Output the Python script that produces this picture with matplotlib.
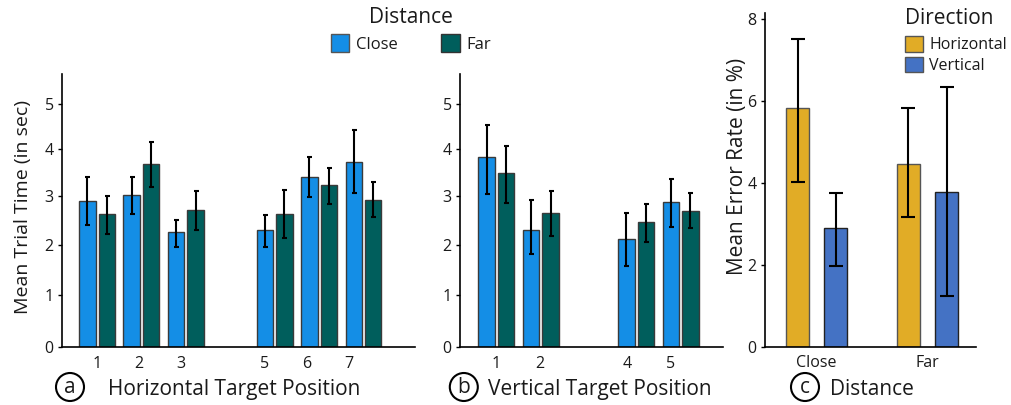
import numpy as np
import matplotlib
matplotlib.use("Agg")
import matplotlib.pyplot as plt
from matplotlib.patches import Ellipse, Patch

plt.rcParams['font.family'] = ['Open Sans', 'DejaVu Sans']

# ---------------- data ----------------
h_pos = [1, 2, 3, 5, 6, 7]
h_labels = ['1', '2', '3', '5', '6', '7']
h_close = [2.90, 3.02, 2.25, 2.30, 3.40, 3.72]
h_close_lo = [2.40, 2.62, 1.95, 1.95, 2.97, 3.07]
h_close_hi = [3.40, 3.41, 2.50, 2.61, 3.83, 4.41]
h_far = [2.62, 3.68, 2.70, 2.62, 3.23, 2.92]
h_far_lo = [2.21, 3.19, 2.29, 2.14, 2.83, 2.57]
h_far_hi = [3.00, 4.16, 3.11, 3.12, 3.60, 3.30]

v_pos = [1, 2, 4, 5]
v_labels = ['1', '2', '4', '5']
v_close = [3.83, 2.30, 2.11, 2.87]
v_close_lo = [3.05, 1.81, 1.56, 2.35]
v_close_hi = [4.54, 2.92, 2.64, 3.36]
v_far = [3.48, 2.64, 2.46, 2.69]
v_far_lo = [2.85, 2.18, 2.05, 2.33]
v_far_hi = [4.07, 3.11, 2.83, 3.07]

dist_labels = ['Close', 'Far']
err_horiz = [5.83, 4.47]
err_horiz_lo = [4.03, 3.17]
err_horiz_hi = [7.52, 5.83]
err_vert = [2.89, 3.78]
err_vert_lo = [1.96, 1.24]
err_vert_hi = [3.74, 6.33]

# ---------------- style ----------------
C_CLOSE = '#148EE6'
C_FAR = '#005E5C'
C_HOR = '#E1AC26'
C_VER = '#4472C4'
TXT = '#1a1a1a'
EDGE = '#3a3a3a'

W, H = 1012, 405
fig = plt.figure(figsize=(W / 100, H / 100), dpi=100)


def ax_px(l, t, r, b):
    return fig.add_axes([l / W, 1 - b / H, (r - l) / W, (b - t) / H])


def fwd(y):
    return np.log(np.asarray(y, dtype=float) + 25.0)


def inv(v):
    return np.exp(np.asarray(v, dtype=float)) - 25.0


def style_axis(ax):
    for s in ['top', 'right']:
        ax.spines[s].set_visible(False)
    for s in ['left', 'bottom']:
        ax.spines[s].set_linewidth(1.2)
        ax.spines[s].set_color('black')
    ax.tick_params(axis='y', length=3, width=1, pad=3, labelsize=11.5, labelcolor=TXT)
    ax.tick_params(axis='x', length=0, pad=6, labelsize=11.5, labelcolor=TXT)


def grouped(ax, x, close, clo, chi, far, flo, fhi):
    x = np.asarray(x, dtype=float)
    bw, off = 0.37, 0.22
    ek = dict(ecolor='black', elinewidth=1.5, capsize=1.8, capthick=1.5)
    c = np.asarray(close); f = np.asarray(far)
    ax.bar(x - off, c, bw, color=C_CLOSE, edgecolor=EDGE, linewidth=1.0,
           yerr=[c - np.asarray(clo), np.asarray(chi) - c], error_kw=ek, zorder=2)
    ax.bar(x + off, f, bw, color=C_FAR, edgecolor=EDGE, linewidth=1.0,
           yerr=[f - np.asarray(flo), np.asarray(fhi) - f], error_kw=ek, zorder=2)


# ---------- panel a ----------
ax_a = ax_px(62, 74, 415, 347.3)
ax_a.set_yscale('function', functions=(fwd, inv))
xa = np.asarray(h_pos, dtype=float)
grouped(ax_a, xa, h_close, h_close_lo, h_close_hi, h_far, h_far_lo, h_far_hi)
ax_a.set_xlim(0.21, 8.16)
ax_a.set_ylim(0, 5.68)
ax_a.set_yticks([0, 1, 2, 3, 4, 5])
ax_a.set_yticklabels(['0', '1', '2', '3', '4', '5'])
ax_a.yaxis.set_minor_locator(matplotlib.ticker.NullLocator())
ax_a.set_xticks(1 + (xa - 1) * 0.945, h_labels)
style_axis(ax_a)
ax_a.set_ylabel('Mean Trial Time (in sec)', fontsize=14, color=TXT)
ax_a.yaxis.set_label_coords(-0.085, 0.513)

# ---------- panel b ----------
ax_b = ax_px(460, 74, 722.7, 347.3)
ax_b.set_yscale('function', functions=(fwd, inv))
vp = np.asarray(v_pos, dtype=float)
xb = vp + np.where(vp > 3, 0.15, 0.0)
grouped(ax_b, xb, v_close, v_close_lo, v_close_hi, v_far, v_far_lo, v_far_hi)
ax_b.set_xlim(0.18, 6.10)
ax_b.set_ylim(0, 5.68)
ax_b.set_yticks([0, 1, 2, 3, 4, 5])
ax_b.set_yticklabels(['0', '1', '2', '3', '4', '5'])
ax_b.yaxis.set_minor_locator(matplotlib.ticker.NullLocator())
ax_b.set_xticks(1 + (vp - 1) * 0.98, v_labels)
style_axis(ax_b)

# ---------- panel c ----------
ax_c = ax_px(765, 12.7, 976, 346.7)
xc = np.arange(len(dist_labels), dtype=float)
bwc, offc = 0.208, 0.173
ekc = dict(ecolor='black', elinewidth=1.5, capsize=4.7, capthick=1.5)
eh = np.asarray(err_horiz); ev = np.asarray(err_vert)
ax_c.bar(xc - offc, eh, bwc, color=C_HOR, edgecolor='#555555', linewidth=1.0,
         yerr=[eh - np.asarray(err_horiz_lo), np.asarray(err_horiz_hi) - eh], error_kw=ekc, zorder=2)
ax_c.bar(xc + offc, ev, bwc, color=C_VER, edgecolor='#222222', linewidth=1.0,
         yerr=[ev - np.asarray(err_vert_lo), np.asarray(err_vert_hi) - ev], error_kw=ekc, zorder=2)
ax_c.set_xlim(-0.467, 1.438)
ax_c.set_ylim(0, 8.15)
ax_c.set_yticks([0, 2, 4, 6, 8])
ax_c.set_xticks(xc, dist_labels)
style_axis(ax_c)
ax_c.set_ylabel('Mean Error Rate (in %)', fontsize=15, color=TXT)
ax_c.yaxis.set_label_coords(-0.082, 0.541)

# ---------- x labels with circled letters ----------
def circ_label(cx, letter, tx, text):
    fig.patches.append(Ellipse((cx / W, 1 - 387 / H), 28 / W, 28 / H, transform=fig.transFigure,
                               fill=False, edgecolor='black', linewidth=1.5))
    fig.text(cx / W, 1 - 393 / H, letter, ha='center', va='baseline', fontsize=15, color=TXT)
    fig.text(tx / W, 1 - 395 / H, text, ha='left', va='baseline', fontsize=15, color=TXT)

circ_label(70, 'a', 108, 'Horizontal Target Position')
circ_label(463.8, 'b', 488, 'Vertical Target Position')
circ_label(805, 'c', 830, 'Distance')

# ---------- legends ----------
h1 = [Patch(facecolor=C_CLOSE, edgecolor='#555555'), Patch(facecolor=C_FAR, edgecolor='#333333')]
leg1 = fig.legend(h1, ['Close', 'Far'], title='Distance', ncol=2, frameon=False,
                  loc='upper center', bbox_to_anchor=(411 / W, 1 + 5 / H),
                  fontsize=12, title_fontsize=15, handlelength=1.1, handleheight=1.25,
                  handletextpad=0.4, columnspacing=2.6, borderpad=0.2, labelspacing=0.4)
for t in leg1.get_texts():
    t.set_color(TXT)
leg1.get_title().set_color(TXT)

h2 = [Patch(facecolor=C_HOR, edgecolor='#555555'), Patch(facecolor=C_VER, edgecolor='#555555')]
leg2 = fig.legend(h2, ['Horizontal', 'Vertical'], title='Direction', ncol=1, frameon=False,
                  loc='upper left', bbox_to_anchor=(894 / W, 1 + 3 / H), alignment='left',
                  fontsize=11.5, title_fontsize=15, handlelength=1.1, handleheight=1.1,
                  handletextpad=0.4, labelspacing=0.2, borderpad=0.2)
try:
    leg2._legend_box.sep = 0.45 * 11.5
except Exception:
    pass
for t in leg2.get_texts():
    t.set_color(TXT)
leg2.get_title().set_color(TXT)

fig.savefig('out.png', dpi=100)
